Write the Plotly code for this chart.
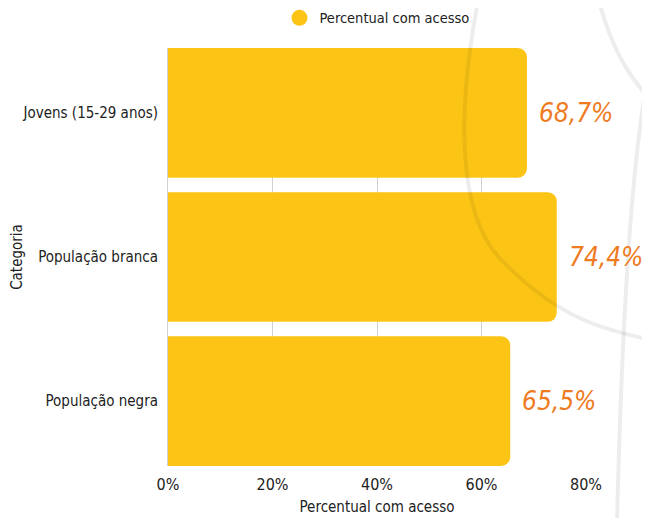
import plotly.graph_objects as go

categories = ["Jovens (15-29 anos)", "População branca", "População negra"]
values = [68.7, 74.4, 65.5]
value_labels = ["68,7%", "74,4%", "65,5%"]
tick_vals = [0, 20, 40, 60, 80]
tick_text = ["0%", "20%", "40%", "60%", "80%"]
series_name = "Percentual com acesso"

BAR = "#FCC515"
ORANGE = "#EE7B22"
FONT = "DejaVu Sans Condensed, Liberation Sans Narrow, sans-serif"

fig = go.Figure()
fig.add_trace(go.Bar(
    y=categories, x=values, orientation="h",
    marker=dict(color=BAR, line=dict(width=0)),
    showlegend=False, name=series_name,
))
fig.add_trace(go.Scatter(
    x=[None], y=[None], mode="markers", name=series_name,
    marker=dict(symbol="circle", size=17, color=BAR),
))

annotations = []
for c, v, t in zip(categories, values, value_labels):
    annotations.append(dict(
        x=v, y=c, xref="x", yref="y", text=t, showarrow=False,
        xanchor="left", yanchor="middle", xshift=10, yshift=0,
        font=dict(family=FONT, size=26, color=ORANGE, style="italic"),
    ))

line_style = dict(color="rgba(0,0,0,0.07)", width=4)
shapes = [
    dict(type="path", xref="paper", yref="paper", layer="above",
         path="M 0.745 1.13 C 0.69 0.85, 0.69 0.60, 0.80 0.49 S 1.0 0.33, 1.17 0.30",
         line=line_style),
    dict(type="path", xref="paper", yref="paper", layer="above",
         path="M 1.026 1.13 C 1.06 1.0, 1.10 0.93, 1.17 0.86",
         line=line_style),
    dict(type="path", xref="paper", yref="paper", layer="above",
         path="M 1.17 1.03 C 1.12 0.85, 1.09 0.50, 1.074 -0.14",
         line=line_style),
    dict(type="path", xref="paper", yref="paper", layer="above",
         path="M 1.17 0.70 C 1.14 0.62, 1.14 0.50, 1.17 0.42",
         line=line_style),
]

fig.update_layout(
    width=650, height=518,
    margin=dict(l=160, r=72, t=40, b=60, autoexpand=False),
    paper_bgcolor="white", plot_bgcolor="white",
    font=dict(family=FONT, size=15, color="#222222"),
    bargap=0.1,
    barcornerradius=9,
    showlegend=True,
    legend=dict(orientation="h", x=0.5, xanchor="center", y=1.072, yanchor="middle",
                font=dict(family=FONT, size=14.5, color="#222222"),
                bgcolor="rgba(0,0,0,0)"),
    xaxis=dict(range=[0, 80], tickvals=tick_vals, ticktext=tick_text,
               showgrid=True, gridcolor="#d0d0d0", gridwidth=1,
               zeroline=False, showline=False, automargin=False,
               ticks="", ticklabelstandoff=7,
               tickfont=dict(size=16, color="#222222"),
               title=dict(text=series_name, font=dict(size=15, color="#222222"), standoff=8)),
    yaxis=dict(categoryorder="array", categoryarray=categories[::-1],
               range=[-0.45, 2.45],
               showgrid=False, zeroline=False, showline=True, linecolor="#d0d0d0", linewidth=1,
               automargin=False,
               ticks="", ticklabelstandoff=6,
               tickfont=dict(size=15, color="#222222"),
               title=dict(text="Categoria", font=dict(size=15, color="#222222"), standoff=16)),
    annotations=annotations,
    shapes=shapes,
)

fig.write_html("out.html")
